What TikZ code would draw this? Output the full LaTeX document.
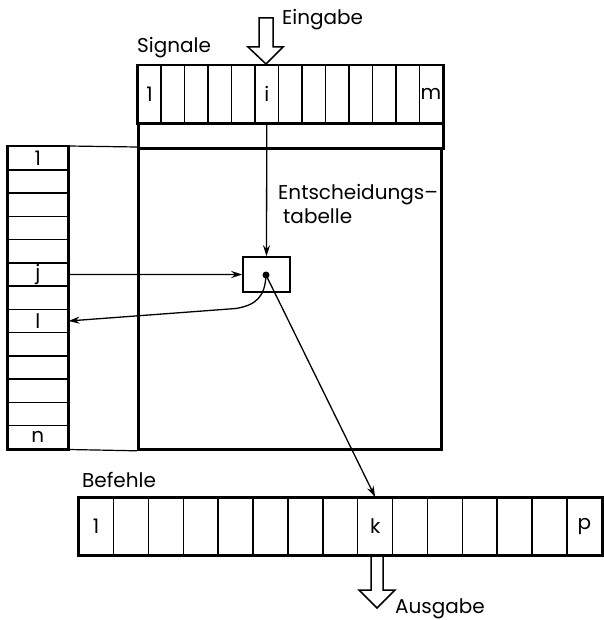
\documentclass[tikz,border=0pt]{standalone}
\usepackage{fontspec}
\setmainfont{Poppins}
\usetikzlibrary{arrows.meta}
\begin{document}
\begin{tikzpicture}[x=1pt,y=-1pt,
  lab/.style={font=\fontsize{20}{22}\selectfont, inner sep=0pt},
  tlab/.style={lab, anchor=base west},
  cellv/.style={draw, line width=1.5pt, minimum width=23.46pt, minimum height=57pt, inner sep=0pt, anchor=north west},
  cellh/.style={draw, line width=1.5pt, minimum width=60pt, minimum height=23.23pt, inner sep=0pt, anchor=north west},
  cellb/.style={draw, line width=1.5pt, minimum width=34.87pt, minimum height=57pt, inner sep=0pt, anchor=north west},
  heavy/.style={draw, line width=2.8pt},
  thinline/.style={line width=1.2pt},
  arr/.style={line width=1.3pt, -{Stealth[length=11pt,width=7pt]}},
  hollow/.style={draw, line width=1.5pt, line join=miter}
]
\useasboundingbox (0,0) rectangle (603,620);

% signals row
\foreach \k in {1,...,13}
  \node[cellv] (s\k) at ({137+(\k-1)*23.46},65) {};
\node[lab] at (s1) {1};
\node[lab] at (s6) {i};
\node[lab] at (s13) {m};
\draw[heavy] (s1.north west) rectangle (s13.south east);

% strip and decision table
\node[heavy, minimum width=305pt, minimum height=25pt, inner sep=0pt, anchor=north west] (strip) at (137,122) {};
\node[heavy, minimum width=303pt, minimum height=301pt, inner sep=0pt, anchor=north west] (table) at (137,147) {};

% left column
\foreach \r in {1,...,13}
  \node[cellh] (c\r) at (7,{146+(\r-1)*23.23}) {};
\node[lab] at (c1) {1};
\node[lab] at (c6) {j};
\node[lab] at (c8) {l};
\node[lab] at (c13) {n};
\draw[heavy] (c1.north west) rectangle (c13.south east);
\draw[thinline] (c1.north east) -- (table.north west);
\draw[thinline] (c13.south east) -- (table.south west);

% bottom row
\foreach \k in {1,...,15}
  \node[cellb] (b\k) at ({78+(\k-1)*34.87},497) {};
\node[lab] at (b1) {1};
\node[lab] at (b9) {k};
\node[lab] at (b15) {p};
\draw[heavy] (b1.north west) rectangle (b15.south east);

% small box and dot
\node[draw, line width=1.5pt, minimum width=47pt, minimum height=35pt, inner sep=0pt] (small) at (266.5,274.5) {};
\node[circle, fill, inner sep=0pt, minimum size=7pt] (dot) at (266,275) {};

% connectors
\draw[arr] (s6.south) -- (small.north);
\draw[arr] (c6.east) -- (small.west);
\coordinate (bend) at (236,308.5);
\draw[arr] (dot.center) .. controls (265,297) and (256,305) .. (bend) -- (c8.east);
\draw[arr] (dot.center) -- (b9.north);

% hollow arrows
\draw[hollow] (259,18) -- (273,18) -- (273,47) -- (283,47) -- (266,64) -- (248,47) -- (259,47) -- cycle;
\draw[hollow] (371,554) -- (371,590) -- (359,590) -- (377,608) -- (395,590) -- (383,590) -- (383,554);

% texts
\node[tlab] (eing) at (282,25) {Eingabe};
\node[tlab] (sig) at (137,53) {Signale};
\node[tlab] (ent1) at (278,200) {Entscheidungs–};
\node[tlab] (ent2) at (283,223) {tabelle};
\node[tlab] (bef) at (82,487) {Befehle};
\node[tlab] (aus) at (395,613) {Ausgabe};
\end{tikzpicture}
\end{document}
